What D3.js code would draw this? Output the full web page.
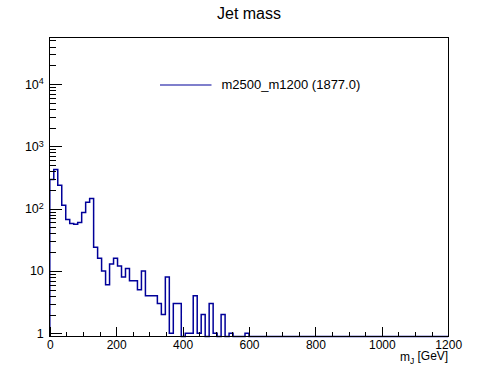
<!DOCTYPE html>
<html>
<head>
<meta charset="utf-8">
<script src="https://cdn.jsdelivr.net/npm/d3@7"></script>
<style>
  body { margin: 0; background: #fff; }
  svg { font-family: "Liberation Sans", Arial, sans-serif; }
  .axis path { display: none; }
  .axis line { stroke: #000; stroke-width: 1; shape-rendering: crispEdges; }
  .axis text { fill: #000; }
  .hist { fill: none; stroke: #000099; stroke-width: 1.5; }
</style>
</head>
<body>
<div id="chart"></div>
<script>
// Histogram binning (GeV)
const binLow = 0;
const binHigh = 1200;
const nBins = 100;

// Bin contents, bins above 600 GeV are empty
const counts = [
  293, 424, 238, 113, 67, 58, 56, 60, 87, 127,
  145, 24, 16, 10, 6, 13, 16, 12, 8, 11,
  7, 7, 5, 10, 4, 4, 4, 3, 2, 8,
  1, 3, 3, 0, 1, 1, 4, 1, 2, 0,
  3, 1, 0, 2, 0, 1, 0, 0, 0, 1
];

const xMajorTicks = [0, 200, 400, 600, 800, 1000, 1200];
const yMajorTicks = [1, 10, 100, 1000, 10000];
const yRange = [0.885, 56000];

const title = "Jet mass";
const xTitle = "m";
const xTitleSub = "J";
const xTitleUnit = " [GeV]";
const legendLabel = "m2500_m1200 (1877.0)";

const W = 498, H = 374;
const margin = { top: 37.4, right: 49.8, bottom: 37.4, left: 49.8 },
  width = W - margin.left - margin.right,
  height = H - margin.top - margin.bottom;

const svg = d3.select("#chart")
  .append("svg")
  .attr("width", W)
  .attr("height", H);

const g = svg.append("g")
  .attr("transform", "translate(" + margin.left + "," + margin.top + ")");

// Scales
const x = d3.scaleLinear().domain([binLow, binHigh]).range([0, width]);
const y = d3.scaleLog().domain(yRange).range([height, 0]);

const binWidth = (binHigh - binLow) / nBins;
const bins = d3.range(nBins).map(i => ({
  x0: binLow + i * binWidth,
  x1: binLow + (i + 1) * binWidth,
  v: i < counts.length ? counts[i] : 0
}));

// Step outline of the histogram, empty bins drop to the frame bottom
const pts = [[x(binLow), height]];
bins.forEach(b => {
  const yy = b.v > 0 ? y(b.v) : height;
  pts.push([x(b.x0), yy]);
  pts.push([x(b.x1), yy]);
});
pts.push([x(binHigh), height]);

g.append("path")
  .attr("class", "hist")
  .attr("d", d3.line()(pts));

// Minor ticks
const xMinor = d3.range(binLow, binHigh + 1, 50).filter(v => v % 200 !== 0);
g.append("g")
  .attr("class", "axis")
  .attr("transform", "translate(0," + height + ")")
  .call(d3.axisBottom(x).tickValues(xMinor).tickSize(-4.7).tickFormat(""));

const yMinor = [];
[1, 10, 100, 1000, 10000].forEach(d => {
  for (let k = 2; k <= 9; k++) if (d * k <= yRange[1]) yMinor.push(d * k);
});
g.append("g")
  .attr("class", "axis")
  .call(d3.axisLeft(y).tickValues(yMinor).tickSize(-6).tickFormat(""));

// Add the X Axis
g.append("g")
  .attr("class", "axis")
  .attr("transform", "translate(0," + height + ")")
  .call(d3.axisBottom(x).tickValues(xMajorTicks).tickSize(-9.3).tickPadding(4)
    .tickFormat(d3.format("d")))
  .selectAll("text")
  .style("font-size", "12px");

// Add the Y Axis
const yAxis = g.append("g")
  .attr("class", "axis")
  .call(d3.axisLeft(y).tickValues(yMajorTicks).tickSize(-12).tickPadding(6));

yAxis.selectAll("text")
  .style("font-size", "12.5px")
  .each(function (d) {
    const t = d3.select(this).text("");
    const p = Math.round(Math.log10(d));
    if (p === 0) t.text("1");
    else if (p === 1) t.text("10");
    else {
      t.append("tspan").text("10");
      t.append("tspan").attr("dy", "-0.45em").style("font-size", "9px").text(p);
    }
  });

// Frame
g.append("rect")
  .attr("width", width)
  .attr("height", height)
  .attr("fill", "none")
  .attr("stroke", "#000")
  .attr("shape-rendering", "crispEdges");

// Title
svg.append("text")
  .attr("x", W / 2)
  .attr("y", 19)
  .attr("text-anchor", "middle")
  .style("font-size", "16px")
  .text(title);

// X axis title
const xt = svg.append("text")
  .attr("x", margin.left + width)
  .attr("y", 361)
  .attr("text-anchor", "end")
  .style("font-size", "12px");
xt.append("tspan").text(xTitle);
xt.append("tspan").attr("dy", "0.3em").style("font-size", "8.5px").text(xTitleSub);
xt.append("tspan").attr("dy", "-0.3em").text(xTitleUnit);

// Legend
svg.append("line")
  .attr("x1", 160).attr("x2", 211.5)
  .attr("y1", 85).attr("y2", 85)
  .attr("stroke", "#000099")
  .attr("stroke-width", 1.2);

svg.append("text")
  .attr("x", 221.5)
  .attr("y", 89.3)
  .style("font-size", "13px")
  .text(legendLabel);
</script>
</body>
</html>
